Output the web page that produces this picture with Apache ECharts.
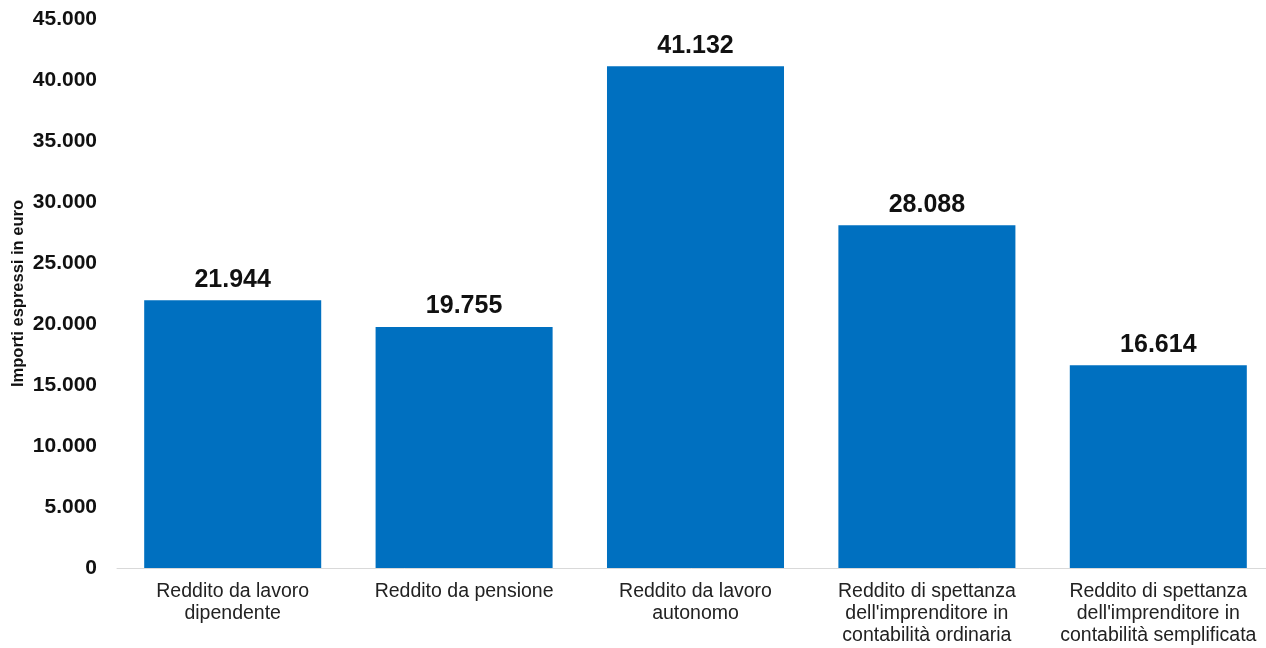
<!DOCTYPE html>
<html><head><meta charset="utf-8">
<script src="https://cdn.jsdelivr.net/npm/echarts@6/dist/echarts.min.js"></script>
<style>html,body{margin:0;padding:0;background:#fff}#c{width:1266px;height:648px}</style>
</head><body><div id="c"></div>
<script>
const categories = [
  "Reddito da lavoro\ndipendente",
  "Reddito da pensione",
  "Reddito da lavoro\nautonomo",
  "Reddito di spettanza\ndell'imprenditore in\ncontabilità ordinaria",
  "Reddito di spettanza\ndell'imprenditore in\ncontabilità semplificata"
];
const values = [21944, 19755, 41132, 28088, 16614];
const yAxisName = "Importi espressi in euro";
const fmt = v => v === 0 ? "0" : String(v).replace(/\B(?=(\d{3})+(?!\d))/g, ".");
const chart = echarts.init(document.getElementById('c'));
chart.setOption({
  animation: false,
  textStyle: { fontFamily: "Liberation Sans, Arial, sans-serif" },
  grid: { left: 117, top: 19, width: 1157, height: 549, containLabel: false, outerBoundsMode: 'none' },
  xAxis: {
    type: 'category', data: categories,
    axisLine: { lineStyle: { color: '#d9d9d9', width: 1 } },
    axisTick: { show: false },
    axisLabel: { color: '#222', fontSize: 19.5, lineHeight: 22, margin: 13, interval: 0 }
  },
  yAxis: {
    type: 'value', min: 0, max: 45000, interval: 5000,
    name: yAxisName, nameLocation: 'middle', nameGap: 90, nameRotate: 90, nameMoveOverlap: false,
    nameTextStyle: { fontSize: 16.5, fontWeight: 'bold', color: '#111' },
    splitLine: { show: false }, axisLine: { show: false }, axisTick: { show: false },
    axisLabel: { color: '#111', fontSize: 21, fontWeight: 'bold', margin: 20, formatter: fmt }
  },
  series: [{
    type: 'bar', data: values, barCategoryGap: '23.5%',
    itemStyle: { color: '#0070C0' },
    label: { show: true, position: 'top', distance: 8, color: '#111', fontSize: 25, fontWeight: 'bold', formatter: p => fmt(p.value) }
  }]
});
</script></body></html>
